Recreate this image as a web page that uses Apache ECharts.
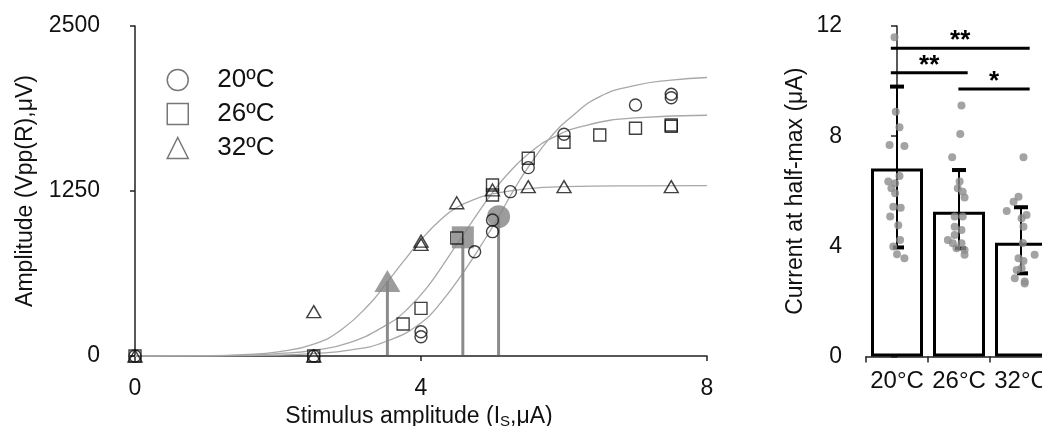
<!DOCTYPE html>
<html><head><meta charset="utf-8">
<script src="https://cdn.jsdelivr.net/npm/echarts@6/dist/echarts.min.js"></script>
<style>html,body{margin:0;padding:0;background:#fff}#c{width:1042px;height:426px}</style>
</head><body><div id="c"></div>
<script>
// ---------- Left panel: amplitude vs stimulus ----------
const xTicks = [0, 4, 8];
const legendNames = ['20ºC', '26ºC', '32ºC'];

// measured points
const p20X = [0, 2.5, 4, 4, 4.75, 5, 5, 5.25, 5.5, 6, 7, 7.5, 7.5];
const p20Y = [0, 0, 184, 146, 790, 942, 1030, 1245, 1427, 1680, 1902, 1983, 1957];
const p26X = [0, 2.5, 3.75, 4, 4.5, 5, 5, 5.5, 6, 6.5, 7, 7.5, 7.5];
const p26Y = [0, 0, 242, 361, 894, 1295, 1220, 1498, 1619, 1674, 1725, 1750, 1740];
const p32X = [0, 2.5, 2.5, 4, 4, 4.5, 5, 5.5, 6, 7.5];
const p32Y = [0, 0, 336, 870, 845, 1161, 1258, 1283, 1283, 1283];

// fitted curves
const fit20X = [0, 1, 2, 2.5, 3, 3.5, 4, 4.3, 4.6, 4.9, 5.1, 5.3, 5.5, 5.8, 6.1, 6.5, 7, 7.5, 8];
const fit20Y = [0, 1, 7, 18, 44, 108, 250, 420, 640, 890, 1070, 1260, 1430, 1650, 1810, 1965, 2050, 2090, 2110];
const fit26X = [0, 1, 1.5, 2, 2.5, 3, 3.5, 3.8, 4.1, 4.4, 4.6, 4.8, 5, 5.2, 5.5, 5.85, 6.3, 7, 8];
const fit26Y = [0, 1, 5, 18, 43, 101, 230, 350, 530, 765, 926, 1087, 1238, 1371, 1530, 1656, 1746, 1804, 1824];
const fit32X = [0, 1, 1.5, 2, 2.5, 2.9, 3.3, 3.5, 3.76, 4, 4.27, 4.5, 4.83, 5, 5.5, 6, 7, 8];
const fit32Y = [0, 3, 11, 32, 90, 205, 405, 540, 720, 880, 1030, 1125, 1203, 1228, 1268, 1283, 1289, 1290];

// half-max markers (32, 26, 20 ºC)
const halfX = [3.53, 4.585, 5.085];
const halfY = [568, 899, 1055];

// ---------- Right panel: current at half-max ----------
const barCats = ['20°C', '26°C', '32°C'];
const barMeans = [6.83, 5.26, 4.13];
const errLow = [3.96, 3.93, 3.02];
const errHigh = [9.80, 6.77, 5.42];

const dots20Off = [-0.04, -0.02, 0.04, -0.12, 0.12, 0.04, -0.14, -0.03, -0.09, -0.03, -0.06, 0.06, -0.11, 0.02, 0.05, -0.06, 0, 0.12];
const dots20 = [11.59, 8.89, 8.32, 7.68, 7.64, 6.55, 6.35, 6.29, 6.11, 5.93, 5.44, 5.40, 5.08, 4.77, 4.23, 3.99, 3.71, 3.57];
const dots26Off = [0.04, 0.02, -0.11, 0.01, -0.02, 0.06, 0.09, -0.07, 0.06, -0.07, 0.04, -0.07, -0.18, -0.1, 0.04, -0.04, 0.09, 0.09];
const dots26 = [9.11, 8.08, 7.23, 6.35, 6.11, 5.98, 5.77, 5.08, 5.08, 4.71, 4.59, 4.41, 4.23, 4.11, 4.11, 3.93, 3.87, 3.69];
const dots32Off = [0.04, -0.04, -0.12, -0.23, 0.09, 0.01, 0.04, 0.03, 0.22, -0.04, 0.04, 0.01, -0.07, -0.1, 0.06, 0.06];
const dots32 = [7.23, 5.80, 5.62, 5.28, 5.14, 5.02, 4.71, 4.12, 3.69, 3.57, 3.47, 3.20, 3.14, 2.84, 2.72, 2.65];

const sigFrom = [-0.1, -0.1, 0.99];
const sigTo = [2.14, 1.14, 2.14];
const sigY = [11.19, 10.30, 9.71];
const sigText = ['**', '**', '*'];

const FONT = 'Liberation Sans, Arial, sans-serif';
const zip = (a, b) => a.map((v, i) => [v, b[i]]);
const axisLineStyle = { color: '#222', width: 1.5 };
const dotData = [];
[[dots20Off, dots20], [dots26Off, dots26], [dots32Off, dots32]].forEach(([o, v], g) => {
  v.forEach((val, i) => dotData.push([g + o[i], val]));
});

const chart = echarts.init(document.getElementById('c'), null, { renderer: 'canvas' });
chart.setOption({
  animation: false,
  backgroundColor: '#fff',
  textStyle: { fontFamily: FONT },
  grid: [
    { left: 131, top: 26, width: 576, height: 330, outerBoundsMode: 'none', containLabel: false },
    { left: 866, top: 26, width: 186, height: 330.5, outerBoundsMode: 'none', containLabel: false }
  ],
  legend: {
    left: 161.5, top: 62, orient: 'vertical',
    itemWidth: 21, itemHeight: 21, itemGap: 8,
    data: legendNames.map((n, i) => ({ name: n, icon: ['circle', 'rect', 'triangle'][i] })),
    itemStyle: { color: 'rgba(0,0,0,0)', borderColor: '#555', borderWidth: 1.5 },
    textStyle: { fontSize: 26, color: '#111', fontFamily: FONT, padding: [0, 0, 0, 24] },
    selectedMode: false
  },
  xAxis: [
    {
      gridIndex: 0, type: 'value', min: -0.056, max: 8, offset: 3.5,
      axisLine: { show: true, lineStyle: axisLineStyle },
      axisTick: { show: true, length: 5, customValues: xTicks, lineStyle: axisLineStyle },
      axisLabel: { customValues: xTicks, fontSize: 23, color: '#111', margin: 18, fontFamily: FONT },
      splitLine: { show: false },
      name: '{t|Stimulus amplitude (I}{s|S}{t|,μA)}',
      nameLocation: 'middle', nameGap: 41,
      nameTextStyle: {
        rich: {
          t: { fontSize: 23, color: '#111', fontFamily: FONT },
          s: { fontSize: 15, color: '#111', fontFamily: FONT, padding: [10, 0, 0, 0] }
        }
      }
    },
    {
      gridIndex: 1, type: 'category', data: barCats, offset: 4,
      axisLine: { show: true, lineStyle: axisLineStyle },
      axisTick: { show: true, length: 6, lineStyle: axisLineStyle },
      axisLabel: { fontSize: 24, color: '#111', margin: 9, fontFamily: FONT, interval: 0, hideOverlap: false }
    },
    { gridIndex: 1, type: 'value', min: -0.5, max: 2.5, show: false }
  ],
  yAxis: [
    {
      gridIndex: 0, type: 'value', min: 0, max: 2500, interval: 1250, offset: 17,
      axisLine: { show: true, lineStyle: axisLineStyle },
      axisTick: { show: true, length: 5, lineStyle: axisLineStyle },
      axisLabel: { fontSize: 23, color: '#111', margin: 14, fontFamily: FONT, formatter: v => String(v) },
      splitLine: { show: false },
      name: 'Amplitude (Vpp(R),μV)', nameLocation: 'middle', nameGap: 77, nameRotate: 90,
      nameTextStyle: { fontSize: 23, color: '#111', fontFamily: FONT }
    },
    {
      gridIndex: 1, type: 'value', min: 0, max: 12, interval: 4, offset: 14,
      axisLine: { show: true, lineStyle: axisLineStyle },
      axisTick: { show: true, length: 6, lineStyle: axisLineStyle },
      axisLabel: { fontSize: 23, color: '#111', margin: 10, fontFamily: FONT },
      splitLine: { show: false },
      name: 'Current at half-max (μA)', nameLocation: 'middle', nameGap: 45, nameRotate: 90,
      nameTextStyle: { fontSize: 23, color: '#111', fontFamily: FONT }
    }
  ],
  series: [
    // fitted curves
    ...[[fit20X, fit20Y, 'fit20'], [fit26X, fit26Y, 'fit26'], [fit32X, fit32Y, 'fit32']].map(([x, y, n]) => ({
      type: 'line', name: n, xAxisIndex: 0, yAxisIndex: 0, data: zip(x, y),
      smooth: 0.5, symbol: 'none', z: 2,
      lineStyle: { color: '#a8a8a8', width: 1.3 }
    })),
    // stems for half-max markers
    {
      type: 'custom', name: 'stems', xAxisIndex: 0, yAxisIndex: 0, z: 3,
      data: zip(halfX, halfY),
      renderItem: (params, api) => {
        const top = api.coord([api.value(0), api.value(1)]);
        const bot = api.coord([api.value(0), 0]);
        return { type: 'line', shape: { x1: top[0], y1: top[1], x2: bot[0], y2: bot[1] - 1 },
                 style: { stroke: '#8c8c8c', lineWidth: 3 } };
      }
    },
    {
      type: 'scatter', name: 'half', xAxisIndex: 0, yAxisIndex: 0, z: 4,
      data: [
        { value: [halfX[0], halfY[0]], symbol: 'triangle', symbolSize: [26, 22] },
        { value: [halfX[1], halfY[1]], symbol: 'rect', symbolSize: 22 },
        { value: [halfX[2], halfY[2]], symbol: 'circle', symbolSize: 23 }
      ],
      itemStyle: { color: '#838383' }
    },
    // measured points
    {
      type: 'scatter', name: legendNames[0], xAxisIndex: 0, yAxisIndex: 0, z: 5,
      symbol: 'circle', symbolSize: 12, data: zip(p20X, p20Y),
      itemStyle: { color: 'rgba(0,0,0,0)', borderColor: '#111', borderWidth: 1.4 }
    },
    {
      type: 'scatter', name: legendNames[1], xAxisIndex: 0, yAxisIndex: 0, z: 5,
      symbol: 'rect', symbolSize: 12, data: zip(p26X, p26Y),
      itemStyle: { color: 'rgba(0,0,0,0)', borderColor: '#111', borderWidth: 1.4 }
    },
    {
      type: 'scatter', name: legendNames[2], xAxisIndex: 0, yAxisIndex: 0, z: 5,
      symbol: 'triangle', symbolSize: [14, 12], data: zip(p32X, p32Y),
      itemStyle: { color: 'rgba(0,0,0,0)', borderColor: '#111', borderWidth: 1.4 }
    },
    // right: bars
    {
      type: 'bar', name: 'mean', xAxisIndex: 1, yAxisIndex: 1, data: barMeans, barWidth: 52, z: 2,
      itemStyle: { color: '#fff', borderColor: '#000', borderWidth: 3 }
    },
    // error bars
    {
      type: 'custom', name: 'err', xAxisIndex: 1, yAxisIndex: 1, z: 4,
      data: barCats.map((c, i) => [i, errLow[i], errHigh[i]]),
      renderItem: (params, api) => {
        const lo = api.coord([api.value(0), api.value(1)]);
        const hi = api.coord([api.value(0), api.value(2)]);
        const s = { fill: '#000' };
        return { type: 'group', children: [
          { type: 'line', shape: { x1: lo[0], y1: lo[1], x2: hi[0], y2: hi[1] }, style: { stroke: '#000', lineWidth: 2 } },
          { type: 'rect', shape: { x: hi[0] - 7, y: hi[1] - 2, width: 14, height: 4 }, style: s },
          { type: 'rect', shape: { x: lo[0] - 4, y: lo[1] - 2, width: 11, height: 4 }, style: s }
        ] };
      }
    },
    // individual points
    {
      type: 'scatter', name: 'dots', xAxisIndex: 2, yAxisIndex: 1, z: 5,
      symbolSize: 8, data: dotData, itemStyle: { color: '#8c8c8c' }
    },
    // significance brackets
    {
      type: 'custom', name: 'sig', xAxisIndex: 2, yAxisIndex: 1, z: 6, clip: false,
      data: sigFrom.map((f, i) => [f, sigTo[i], sigY[i]]),
      renderItem: (params, api) => {
        const a = api.coord([api.value(0), api.value(2)]);
        const b = api.coord([api.value(1), api.value(2)]);
        return { type: 'group', children: [
          { type: 'line', shape: { x1: a[0], y1: a[1], x2: b[0], y2: b[1] }, style: { stroke: '#000', lineWidth: 3 } },
          { type: 'text', style: { text: sigText[params.dataIndex], x: (a[0] + b[0]) / 2, y: a[1] + 6,
              align: 'center', verticalAlign: 'bottom', fill: '#000', font: 'bold 26px ' + FONT } }
        ] };
      }
    }
  ]
});
</script>
</body></html>
